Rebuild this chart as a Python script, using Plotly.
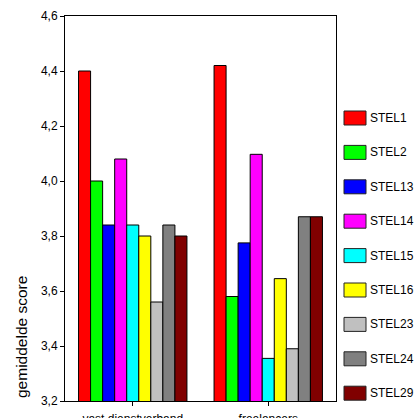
import plotly.graph_objects as go

categories = ["vast dienstverband", "freelancers"]
series_names = ["STEL1", "STEL2", "STEL13", "STEL14", "STEL15", "STEL16", "STEL23", "STEL24", "STEL29"]
vast_values = [4.40, 4.00, 3.84, 4.08, 3.84, 3.80, 3.56, 3.84, 3.80]
freelancer_values = [4.42, 3.58, 3.775, 4.097, 3.355, 3.645, 3.39, 3.87, 3.87]
series_colors = ["#FF0000", "#00FF00", "#0000FF", "#FF00FF", "#00FFFF",
                 "#FFFF00", "#C0C0C0", "#808080", "#800000"]
y_ticks = [3.2, 3.4, 3.6, 3.8, 4.0, 4.2, 4.4, 4.6]

W, H = 417, 418
L, R, T, B = 65, 81, 16, 17
pw, ph = W - L - R, H - T - B

fig = go.Figure()
for name, v1, v2, col in zip(series_names, vast_values, freelancer_values, series_colors):
    fig.add_trace(go.Bar(
        x=categories, y=[v1, v2], name=name,
        marker=dict(color=col, line=dict(color="#000000", width=1)),
        showlegend=False,
    ))

# manual legend (swatches + labels), positioned in pixels converted to paper coords
def px_x(px):
    return (px - L) / pw

def px_y(py):
    return (H - B - py) / ph

leg_top = 118
leg_step = 34.4
for i, (name, col) in enumerate(zip(series_names, series_colors)):
    cy = leg_top + i * leg_step
    fig.add_shape(type="rect", xref="paper", yref="paper",
                  x0=px_x(344), x1=px_x(366), y0=px_y(cy + 7), y1=px_y(cy - 7),
                  fillcolor=col, line=dict(color="#222222", width=1), layer="above")
    fig.add_annotation(xref="paper", yref="paper", x=px_x(368), y=px_y(cy),
                       text=name, showarrow=False, xanchor="left", yanchor="middle",
                       font=dict(size=12, color="#000000", family="Liberation Sans, Arial"))

fig.add_annotation(xref="paper", yref="paper", x=px_x(21), y=px_y(337),
                   text="gemiddelde score", textangle=-90, showarrow=False,
                   xanchor="center", yanchor="middle",
                   font=dict(size=15.5, color="#000000", family="Liberation Sans, Arial"))

fig.update_layout(
    width=W, height=H,
    margin=dict(l=L, r=R, t=T, b=B, pad=0, autoexpand=False),
    paper_bgcolor="white", plot_bgcolor="white",
    barmode="group", bargap=0.2, bargroupgap=0,
    separators=", ",
    font=dict(family="Liberation Sans, Arial", size=12, color="#000000"),
    showlegend=False,
)
fig.update_xaxes(
    showline=True, linecolor="#000000", linewidth=1, mirror=True,
    ticks="outside", ticklen=4, tickcolor="#000000", showgrid=False,
    tickfont=dict(size=12), ticklabelstandoff=3, automargin=False,
)
fig.update_yaxes(
    range=[3.2, 4.6], tickvals=y_ticks, tickformat=".1f",
    showline=True, linecolor="#000000", linewidth=1, mirror=True,
    ticks="outside", ticklen=4, tickcolor="#000000", showgrid=False,
    zeroline=False, tickfont=dict(size=12), automargin=False,
)

fig.write_html(
    "out.html",
    config={"displayModeBar": False},
    post_script="document.body.style.margin='0';document.body.style.overflow='hidden';",
)
